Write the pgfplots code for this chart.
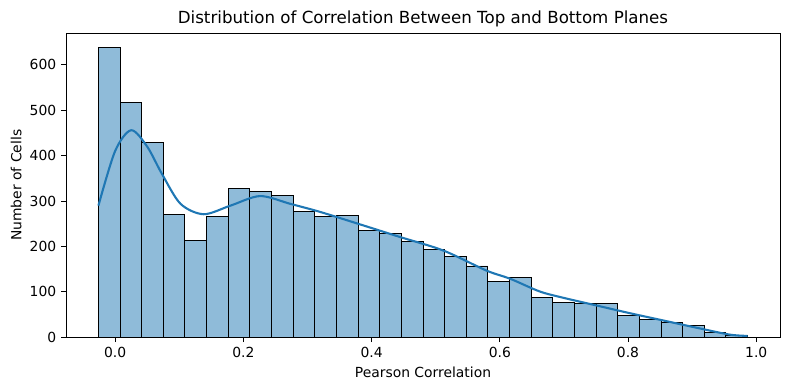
\documentclass[border=0pt]{standalone}
\usepackage{pgfplots}
\pgfplotsset{compat=1.18}
\usepackage{fontspec}
\setmainfont{DejaVu Sans}
\definecolor{mplblue}{HTML}{1F77B4}
\definecolor{barfill}{RGB}{143,187,217}
\begin{document}
\begin{tikzpicture}
\begin{axis}[
  scale only axis,
  width=514pt, height=219pt,
  xmin=-0.0766, xmax=1.037,
  ymin=0, ymax=670,
  xtick={0,0.2,0.4,0.6,0.8,1.0},
  xticklabels={0.0,0.2,0.4,0.6,0.8,1.0},
  ytick={0,100,200,300,400,500,600},
  tick align=outside,
  major tick length=3.5pt,
  xtick pos=bottom, ytick pos=left,
  tick style={black, line width=0.6pt},
  axis line style={line width=0.6pt},
  /pgf/number format/assume math mode=true,
  tick label style={font=\fontsize{10}{12}\selectfont},
  label style={font=\fontsize{10}{12}\selectfont},
  title style={font=\fontsize{12}{14}\selectfont, yshift=-5pt},
  title={Distribution of Correlation Between Top and Bottom Planes},
  xlabel={Pearson Correlation},
  ylabel={Number of Cells},
  xlabel style={yshift=0pt},
  ylabel style={yshift=-1pt},
]
\addplot[ybar interval, fill=barfill, draw=black, line width=0.7pt] coordinates {
(-0.026,638) (0.00775,517) (0.0415,428) (0.07525,270) (0.109,214)
(0.14275,265) (0.1765,327) (0.21025,322) (0.244,313) (0.27775,276)
(0.3115,265) (0.34525,268) (0.379,235) (0.41275,228) (0.4465,212)
(0.48025,194) (0.514,177) (0.54775,157) (0.5815,122) (0.61525,131)
(0.649,87) (0.68275,76) (0.7165,74) (0.75025,74) (0.784,49)
(0.81775,40) (0.8515,32) (0.88525,25) (0.919,11) (0.95275,4)
(0.9865,4)
};
\addplot[mplblue, line width=1.5pt, smooth, no markers] coordinates {
(-0.026,290) (0.0,410) (0.025,456) (0.05,420) (0.073,360) (0.102,294)
(0.138,271) (0.18,290) (0.226,311) (0.273,294) (0.32,276)
(0.379,250) (0.444,221) (0.512,191) (0.579,147) (0.616,129)
(0.662,101) (0.699,87) (0.751,70) (0.803,53) (0.855,37)
(0.907,21) (0.958,6) (0.9865,3)
};
\end{axis}
\pgfresetboundingbox
\path[use as bounding box] ([shift={(-47.5pt,-38.2pt)}]current axis.south west) rectangle ([shift={(7.2pt,23.8pt)}]current axis.north east);
\end{tikzpicture}
\end{document}
